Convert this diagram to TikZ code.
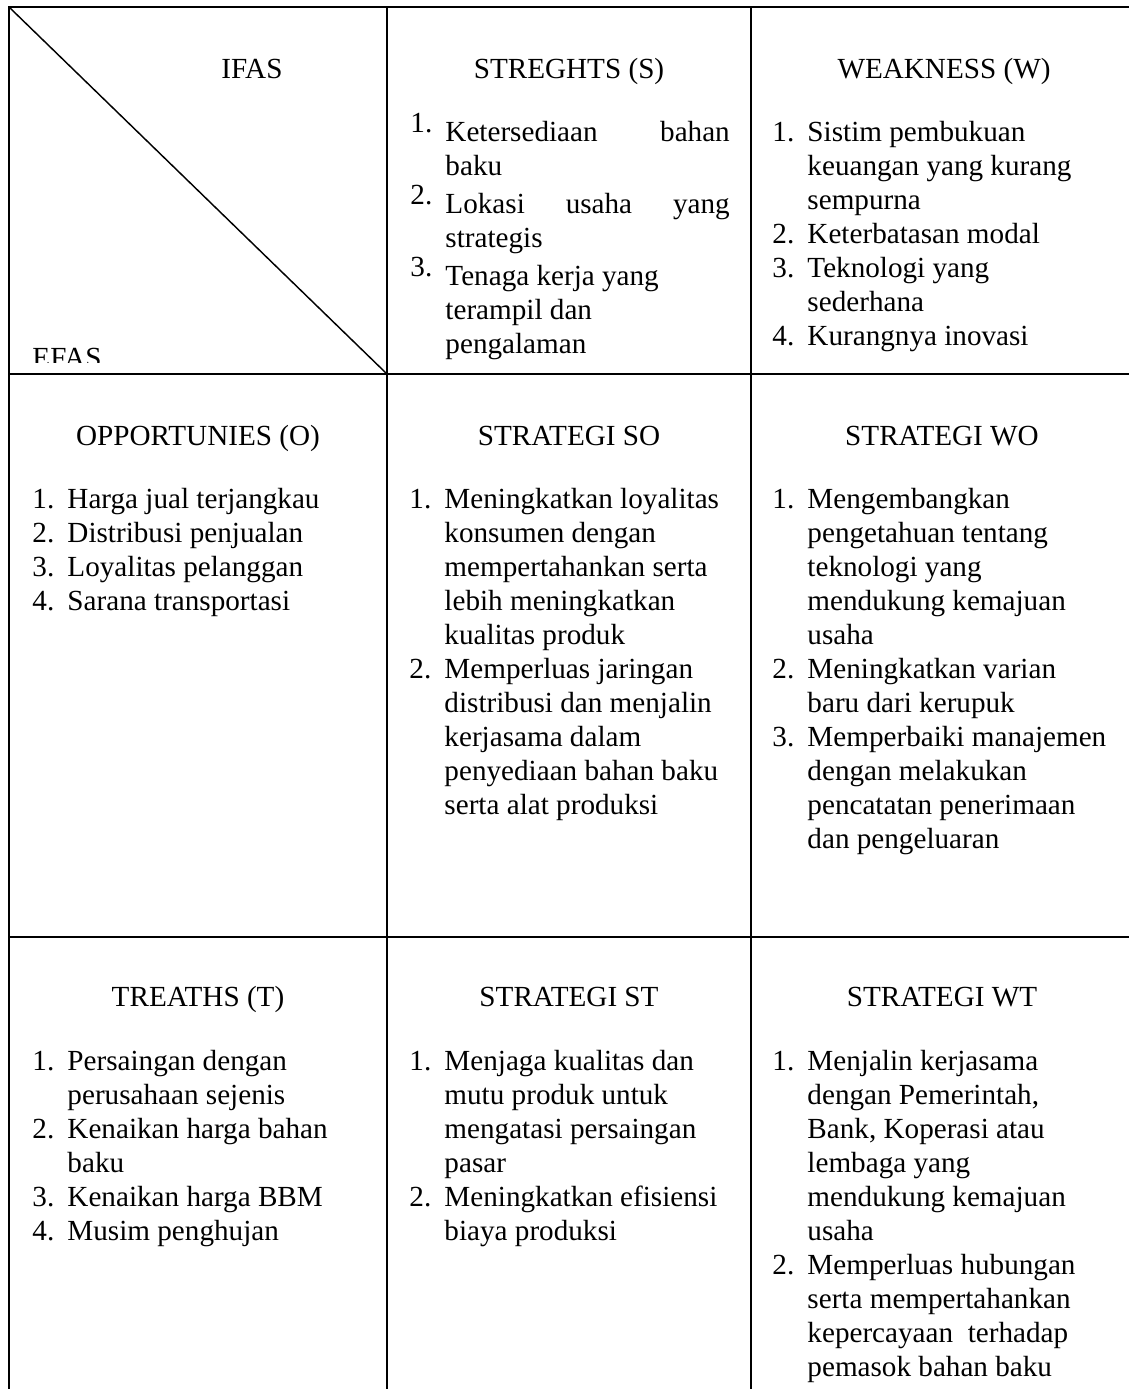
\documentclass[tikz,border=0pt]{standalone}
\usepackage{fontspec}
\setmainfont{Liberation Serif}
\newcommand\nm[1]{\makebox[14.4pt][l]{#1}}
\newcommand\rnm[1]{\makebox[14.4pt][l]{\raisebox{3.6pt}{#1}}}
\newcommand\ind{\hspace*{14.4pt}}
\begin{document}
\begin{tikzpicture}[x=0.41152pt,y=-0.41152pt,
  gridline/.style={line width=0.8pt},
  hdr/.style={font=\fontsize{12}{14}\selectfont, inner sep=0pt, anchor=base},
  body/.style={font=\fontsize{12}{14}\selectfont, inner sep=0pt, anchor=base west}]
\useasboundingbox (0,0) rectangle (1129,1389);
% grid
\draw[gridline] (9,1389) -- (9,7) -- (1129,7);
\draw[gridline] (387,7) -- (387,1389);
\draw[gridline] (751,7) -- (751,1389);
\draw[gridline] (9,374) -- (1129,374);
\draw[gridline] (9,937) -- (1129,937);
\draw[line width=0.6pt] (9,7) -- (387,374);
% row 1
\node[hdr] (ifas) at (252,78) {IFAS};
\begin{scope}
  \clip (9,300) rectangle (387,362);
  \node[body] (efas) at (32,367) {EFAS};
\end{scope}
\node[hdr] (shdr) at (569,78) {STREGHTS (S)};
\node[hdr] (whdr) at (944,78) {WEAKNESS (W)};
\node[body] (sbody) at (410,141) {\begin{tabular}[t]{@{}l@{}}
\rnm{1.}\makebox[117pt][s]{Ketersediaan\hfill bahan}\\
\ind baku\\
\rnm{2.}\makebox[117pt][s]{Lokasi\hfill usaha\hfill yang}\\
\ind strategis\\
\rnm{3.}Tenaga kerja yang\\
\ind terampil dan\\
\ind pengalaman
\end{tabular}};
\node[body] (wbody) at (772,141) {\begin{tabular}[t]{@{}l@{}}
\nm{1.}Sistim pembukuan\\
\ind keuangan yang kurang\\
\ind sempurna\\
\nm{2.}Keterbatasan modal\\
\nm{3.}Teknologi yang\\
\ind sederhana\\
\nm{4.}Kurangnya inovasi
\end{tabular}};
% row 2
\node[hdr] (ohdr) at (198,445) {OPPORTUNIES (O)};
\node[hdr] (sohdr) at (569,445) {STRATEGI SO};
\node[hdr] (wohdr) at (942,445) {STRATEGI WO};
\node[body] (obody) at (32,508) {\begin{tabular}[t]{@{}l@{}}
\nm{1.}Harga jual terjangkau\\
\nm{2.}Distribusi penjualan\\
\nm{3.}Loyalitas pelanggan\\
\nm{4.}Sarana transportasi
\end{tabular}};
\node[body] (sobody) at (409,508) {\begin{tabular}[t]{@{}l@{}}
\nm{1.}Meningkatkan loyalitas\\
\ind konsumen dengan\\
\ind mempertahankan serta\\
\ind lebih meningkatkan\\
\ind kualitas produk\\
\nm{2.}Memperluas jaringan\\
\ind distribusi dan menjalin\\
\ind kerjasama dalam\\
\ind penyediaan bahan baku\\
\ind serta alat produksi
\end{tabular}};
\node[body] (wobody) at (772,508) {\begin{tabular}[t]{@{}l@{}}
\nm{1.}Mengembangkan\\
\ind pengetahuan tentang\\
\ind teknologi yang\\
\ind mendukung kemajuan\\
\ind usaha\\
\nm{2.}Meningkatkan varian\\
\ind baru dari kerupuk\\
\nm{3.}Memperbaiki manajemen\\
\ind dengan melakukan\\
\ind pencatatan penerimaan\\
\ind dan pengeluaran
\end{tabular}};
% row 3
\node[hdr] (thdr) at (198,1006) {TREATHS (T)};
\node[hdr] (sthdr) at (569,1006) {STRATEGI ST};
\node[hdr] (wthdr) at (942,1006) {STRATEGI WT};
\node[body] (tbody) at (32,1070) {\begin{tabular}[t]{@{}l@{}}
\nm{1.}Persaingan dengan\\
\ind perusahaan sejenis\\
\nm{2.}Kenaikan harga bahan\\
\ind baku\\
\nm{3.}Kenaikan harga BBM\\
\nm{4.}Musim penghujan
\end{tabular}};
\node[body] (stbody) at (409,1070) {\begin{tabular}[t]{@{}l@{}}
\nm{1.}Menjaga kualitas dan\\
\ind mutu produk untuk\\
\ind mengatasi persaingan\\
\ind pasar\\
\nm{2.}Meningkatkan efisiensi\\
\ind biaya produksi
\end{tabular}};
\node[body] (wtbody) at (772,1070) {\begin{tabular}[t]{@{}l@{}}
\nm{1.}Menjalin kerjasama\\
\ind dengan Pemerintah,\\
\ind Bank, Koperasi atau\\
\ind lembaga yang\\
\ind mendukung kemajuan\\
\ind usaha\\
\nm{2.}Memperluas hubungan\\
\ind serta mempertahankan\\
\ind kepercayaan~ terhadap\\
\ind pemasok bahan baku
\end{tabular}};
\end{tikzpicture}
\end{document}
